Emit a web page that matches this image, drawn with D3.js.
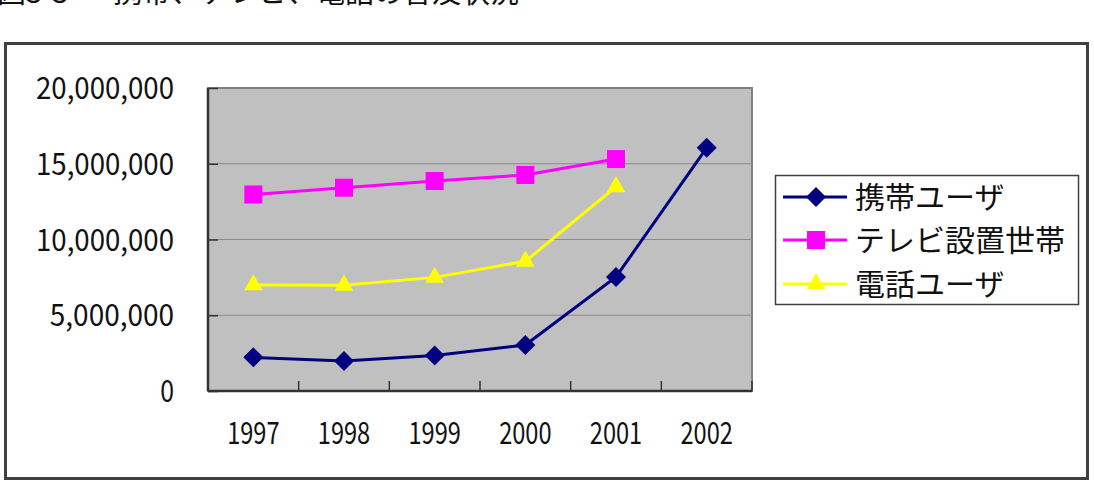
<!DOCTYPE html>
<meta charset="utf-8">
<script src="https://d3js.org/d3.v7.min.js"></script>
<style>
  body { margin: 0; background: #fff; }
  text { font-family: "Noto Sans CJK JP", sans-serif; fill: #111; }
</style>
<svg id="chart" width="1094" height="497"></svg>
<script>
  // data
  var years = ["1997", "1998", "1999", "2000", "2001", "2002"];
  var mobileUsers = [2220000, 1980000, 2340000, 3040000, 7530000, 16050000];
  var tvHouseholds = [12970000, 13420000, 13860000, 14260000, 15310000, null];
  var phoneUsers = [7000000, 6980000, 7500000, 8560000, 13480000, null];
  var seriesNames = ["携帯ユーザ", "テレビ設置世帯", "電話ユーザ"];
  var yTicks = [0, 5000000, 10000000, 15000000, 20000000];

  var svg = d3.select("#chart");

  // plot area
  var plotLeft = 208, plotTop = 88, plotRight = 752, plotBottom = 391;

  var x = d3.scaleBand().domain(years).range([plotLeft, plotRight]);
  var y = d3.scaleLinear().domain([0, 20000000]).range([plotBottom, plotTop]);
  var cx = function(i) { return x(years[i]) + x.bandwidth() / 2; };

  // title, cut off by the top edge as in the scan
  svg.append("text")
      .attr("x", -3).attr("y", 3)
      .style("font-size", "29px")
      .text("図3-3");
  svg.append("text")
      .attr("x", 113).attr("y", 3)
      .style("font-size", "29px")
      .text("携帯、テレビ、電話の普及状況");

  // outer frame
  svg.append("rect")
      .attr("x", 5.5).attr("y", 43.5)
      .attr("width", 1082).attr("height", 435)
      .attr("fill", "#fff")
      .attr("stroke", "#404040")
      .attr("stroke-width", 3);

  // plot background
  svg.append("rect")
      .attr("x", plotLeft).attr("y", plotTop)
      .attr("width", plotRight - plotLeft).attr("height", plotBottom - plotTop)
      .attr("fill", "#c0c0c0")
      .attr("stroke", "#808080")
      .attr("stroke-width", 2);

  // gridlines
  svg.append("g")
    .selectAll("line")
    .data(yTicks.slice(1, -1))
    .enter()
    .append("line")
      .attr("x1", plotLeft).attr("x2", plotRight)
      .attr("y1", function(d) { return y(d); })
      .attr("y2", function(d) { return y(d); })
      .attr("stroke", "#8a8a8a")
      .attr("stroke-width", 1);

  // y axis
  var yAxis = svg.append("g")
      .attr("transform", "translate(" + plotLeft + ",0)")
      .call(d3.axisLeft(y)
        .tickValues(yTicks)
        .tickFormat(d3.format(","))
        .tickSizeInner(-10)
        .tickSizeOuter(0)
        .tickPadding(34));
  yAxis.select(".domain").remove();
  yAxis.selectAll("line").attr("stroke", "#333").attr("stroke-width", 1.5);
  yAxis.selectAll("text")
      .attr("fill", "#111")
      .style("font-family", "'Noto Sans CJK JP', sans-serif")
      .style("font-size", "30px")
      .attr("dy", "0.35em")
      .each(function(d) {
        var s = d3.format(",")(d);
        d3.select(this)
          .attr("textLength", s.length * 13.8)
          .attr("lengthAdjust", "spacingAndGlyphs");
      });

  // x axis labels
  var xAxis = svg.append("g")
      .attr("transform", "translate(0," + plotBottom + ")")
      .call(d3.axisBottom(x).tickSize(0).tickPadding(0));
  xAxis.select(".domain").remove();
  xAxis.selectAll("text")
      .attr("fill", "#111")
      .attr("y", 42)
      .attr("dy", "0.35em")
      .style("font-family", "'Noto Sans CJK JP', sans-serif")
      .style("font-size", "30px")
      .attr("textLength", 4 * 13.1)
      .attr("lengthAdjust", "spacingAndGlyphs");

  // x ticks at category boundaries
  svg.append("g")
    .selectAll("line")
    .data(years.slice(1).concat(["end"]))
    .enter()
    .append("line")
      .attr("x1", function(d) { return d === "end" ? plotRight : x(d); })
      .attr("x2", function(d) { return d === "end" ? plotRight : x(d); })
      .attr("y1", plotBottom).attr("y2", plotBottom - 10)
      .attr("stroke", "#333")
      .attr("stroke-width", 1.5);

  // axis lines
  svg.append("line")
      .attr("x1", plotLeft).attr("x2", plotLeft)
      .attr("y1", plotTop).attr("y2", plotBottom)
      .attr("stroke", "#333").attr("stroke-width", 2.5);
  svg.append("line")
      .attr("x1", plotLeft).attr("x2", plotRight)
      .attr("y1", plotBottom).attr("y2", plotBottom)
      .attr("stroke", "#333").attr("stroke-width", 2.5);

  // series
  var series = [
    { name: seriesNames[0], values: mobileUsers, color: "#000080",
      symbol: d3.symbol().type(d3.symbolSquare).size(200), rotate: 45 },
    { name: seriesNames[1], values: tvHouseholds, color: "#ff00ff",
      symbol: d3.symbol().type(d3.symbolSquare).size(324), rotate: 0 },
    { name: seriesNames[2], values: phoneUsers, color: "#ffff00",
      symbol: d3.symbol().type(d3.symbolTriangle).size(150), rotate: 0 }
  ];

  var line = d3.line()
      .defined(function(d) { return d != null; })
      .x(function(d, i) { return cx(i); })
      .y(function(d) { return y(d); });

  // draw back to front: phone, tv, mobile
  series.slice().reverse().forEach(function(s) {
    svg.append("path")
        .datum(s.values)
        .attr("d", line)
        .attr("fill", "none")
        .attr("stroke", s.color)
        .attr("stroke-width", 3);

    svg.append("g")
      .selectAll("path")
      .data(s.values.map(function(v, i) { return { v: v, i: i }; })
        .filter(function(d) { return d.v != null; }))
      .enter()
      .append("path")
        .attr("d", s.symbol)
        .attr("transform", function(d) {
          return "translate(" + cx(d.i) + "," + y(d.v) + ") rotate(" + s.rotate + ")";
        })
        .attr("fill", s.color);
  });

  // legend
  var legend = svg.append("g");
  legend.append("rect")
      .attr("x", 775.5).attr("y", 175.5)
      .attr("width", 303).attr("height", 129)
      .attr("fill", "#fff")
      .attr("stroke", "#404040")
      .attr("stroke-width", 1.5);

  var rowY = [197, 240, 284];
  series.forEach(function(s, i) {
    var g = legend.append("g").attr("transform", "translate(0," + rowY[i] + ")");
    g.append("line")
        .attr("x1", 783).attr("x2", 847)
        .attr("y1", 0).attr("y2", 0)
        .attr("stroke", s.color)
        .attr("stroke-width", 3);
    g.append("path")
        .attr("d", s.symbol)
        .attr("transform", "translate(816,0) rotate(" + s.rotate + ")")
        .attr("fill", s.color);
    g.append("text")
        .attr("x", 855).attr("y", 0)
        .attr("dy", "0.36em")
        .style("font-size", "30px")
        .text(s.name);
  });
</script>
